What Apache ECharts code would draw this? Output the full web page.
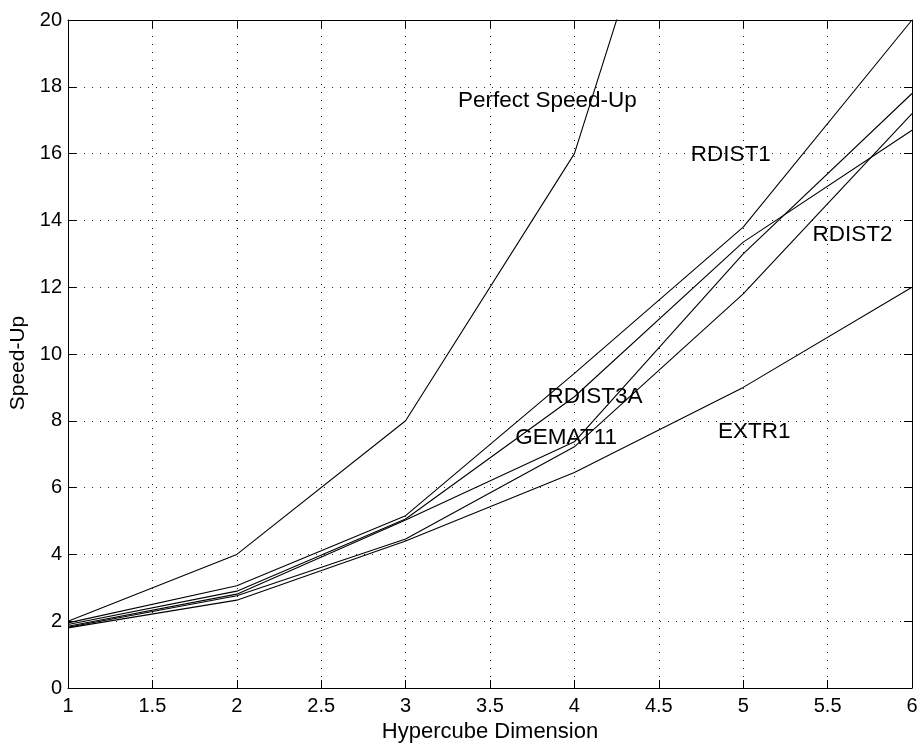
<!DOCTYPE html>
<html>
<head>
<meta charset="utf-8">
<script src="https://cdn.jsdelivr.net/npm/echarts@6/dist/echarts.min.js"></script>
<style>
  html, body { margin: 0; padding: 0; background: #fff; }
  #chart { width: 920px; height: 743px; }
</style>
</head>
<body>
<div id="chart"></div>
<script>
// Hypercube dimension on the x axis
const dims = [1, 2, 3, 4, 5, 6];

// Measured speed-up per test problem
const perfectSpeedUp = [2, 4, 8, 16, 32, 64];
const rdist1  = [1.95, 3.06, 5.16, 9.42, 13.8, 20.0];
const rdist3a = [1.90, 2.90, 5.06, 8.72, 13.35, 16.7];
const rdist2  = [1.85, 2.81, 5.03, 7.37, 13.0, 17.8];
const gemat11 = [1.82, 2.76, 4.46, 7.22, 11.8, 17.2];
const extr1   = [1.80, 2.63, 4.40, 6.45, 9.0, 12.0];

// In-plot curve labels and their anchor points (data coordinates)
const labelNames = ['Perfect Speed-Up', 'RDIST1', 'RDIST2', 'RDIST3A', 'GEMAT11', 'EXTR1'];
const labelX = [3.31, 4.69, 5.41, 3.84, 3.65, 4.85];
const labelY = [17.57, 15.96, 13.56, 8.71, 7.49, 7.66];

const FONT = 'Liberation Sans, Arial, Helvetica, sans-serif';

const curves = [perfectSpeedUp, rdist1, rdist3a, rdist2, gemat11, extr1];

const lineSeries = curves.map(vals => ({
  type: 'line',
  data: dims.map((d, i) => [d, vals[i]]),
  showSymbol: false,
  symbol: 'none',
  clip: true,
  lineStyle: { color: '#000', width: 1.1 },
  silent: true,
  animation: false,
  z: 3
}));

const labelSeries = {
  type: 'scatter',
  symbolSize: 0,
  silent: true,
  animation: false,
  itemStyle: { opacity: 1 },
  data: labelNames.map((n, i) => ({ name: n, value: [labelX[i], labelY[i]] })),
  label: {
    show: true,
    position: 'right',
    distance: 0,
    formatter: p => p.name,
    color: '#000',
    opacity: 1,
    fontFamily: FONT,
    fontSize: 22.5
  },
  z: 4
};

const gridLine = { show: true, lineStyle: { color: '#222', width: 1, type: [1, 7] } };

const option = {
  backgroundColor: '#fff',
  animation: false,
  grid: { left: 68, right: 8, top: 20, bottom: 55, outerBoundsMode: 'none', containLabel: false },
  xAxis: [
    {
      type: 'value', min: 1, max: 6, interval: 0.5,
      name: 'Hypercube Dimension', nameLocation: 'middle', nameGap: 32,
      nameTextStyle: { color: '#000', fontFamily: FONT, fontSize: 22 },
      axisLine: { show: true, onZero: false, lineStyle: { color: '#000', width: 1 } },
      axisTick: { show: true, inside: true, length: 8, lineStyle: { color: '#000' } },
      axisLabel: { color: '#000', fontFamily: FONT, fontSize: 20, margin: 8 },
      splitLine: gridLine
    },
    {
      type: 'value', min: 1, max: 6, interval: 0.5, position: 'top',
      axisLine: { show: true, onZero: false, lineStyle: { color: '#000', width: 1 } },
      axisTick: { show: true, inside: true, length: 8, lineStyle: { color: '#000' } },
      axisLabel: { show: false },
      splitLine: { show: false }
    }
  ],
  yAxis: [
    {
      type: 'value', min: 0, max: 20, interval: 2,
      name: 'Speed-Up', nameLocation: 'middle', nameGap: 33,
      nameTextStyle: { color: '#000', fontFamily: FONT, fontSize: 21, padding: [0, 18, 0, 0] },
      axisLine: { show: true, onZero: false, lineStyle: { color: '#000', width: 1 } },
      axisTick: { show: true, inside: true, length: 8, lineStyle: { color: '#000' } },
      axisLabel: { color: '#000', fontFamily: FONT, fontSize: 20, margin: 6 },
      splitLine: gridLine
    },
    {
      type: 'value', min: 0, max: 20, interval: 2, position: 'right',
      axisLine: { show: true, onZero: false, lineStyle: { color: '#000', width: 1 } },
      axisTick: { show: true, inside: true, length: 8, lineStyle: { color: '#000' } },
      axisLabel: { show: false },
      splitLine: { show: false }
    }
  ],
  series: [...lineSeries, labelSeries]
};

const chart = echarts.init(document.getElementById('chart'), null, { renderer: 'canvas' });
chart.setOption(option);
</script>
</body>
</html>
